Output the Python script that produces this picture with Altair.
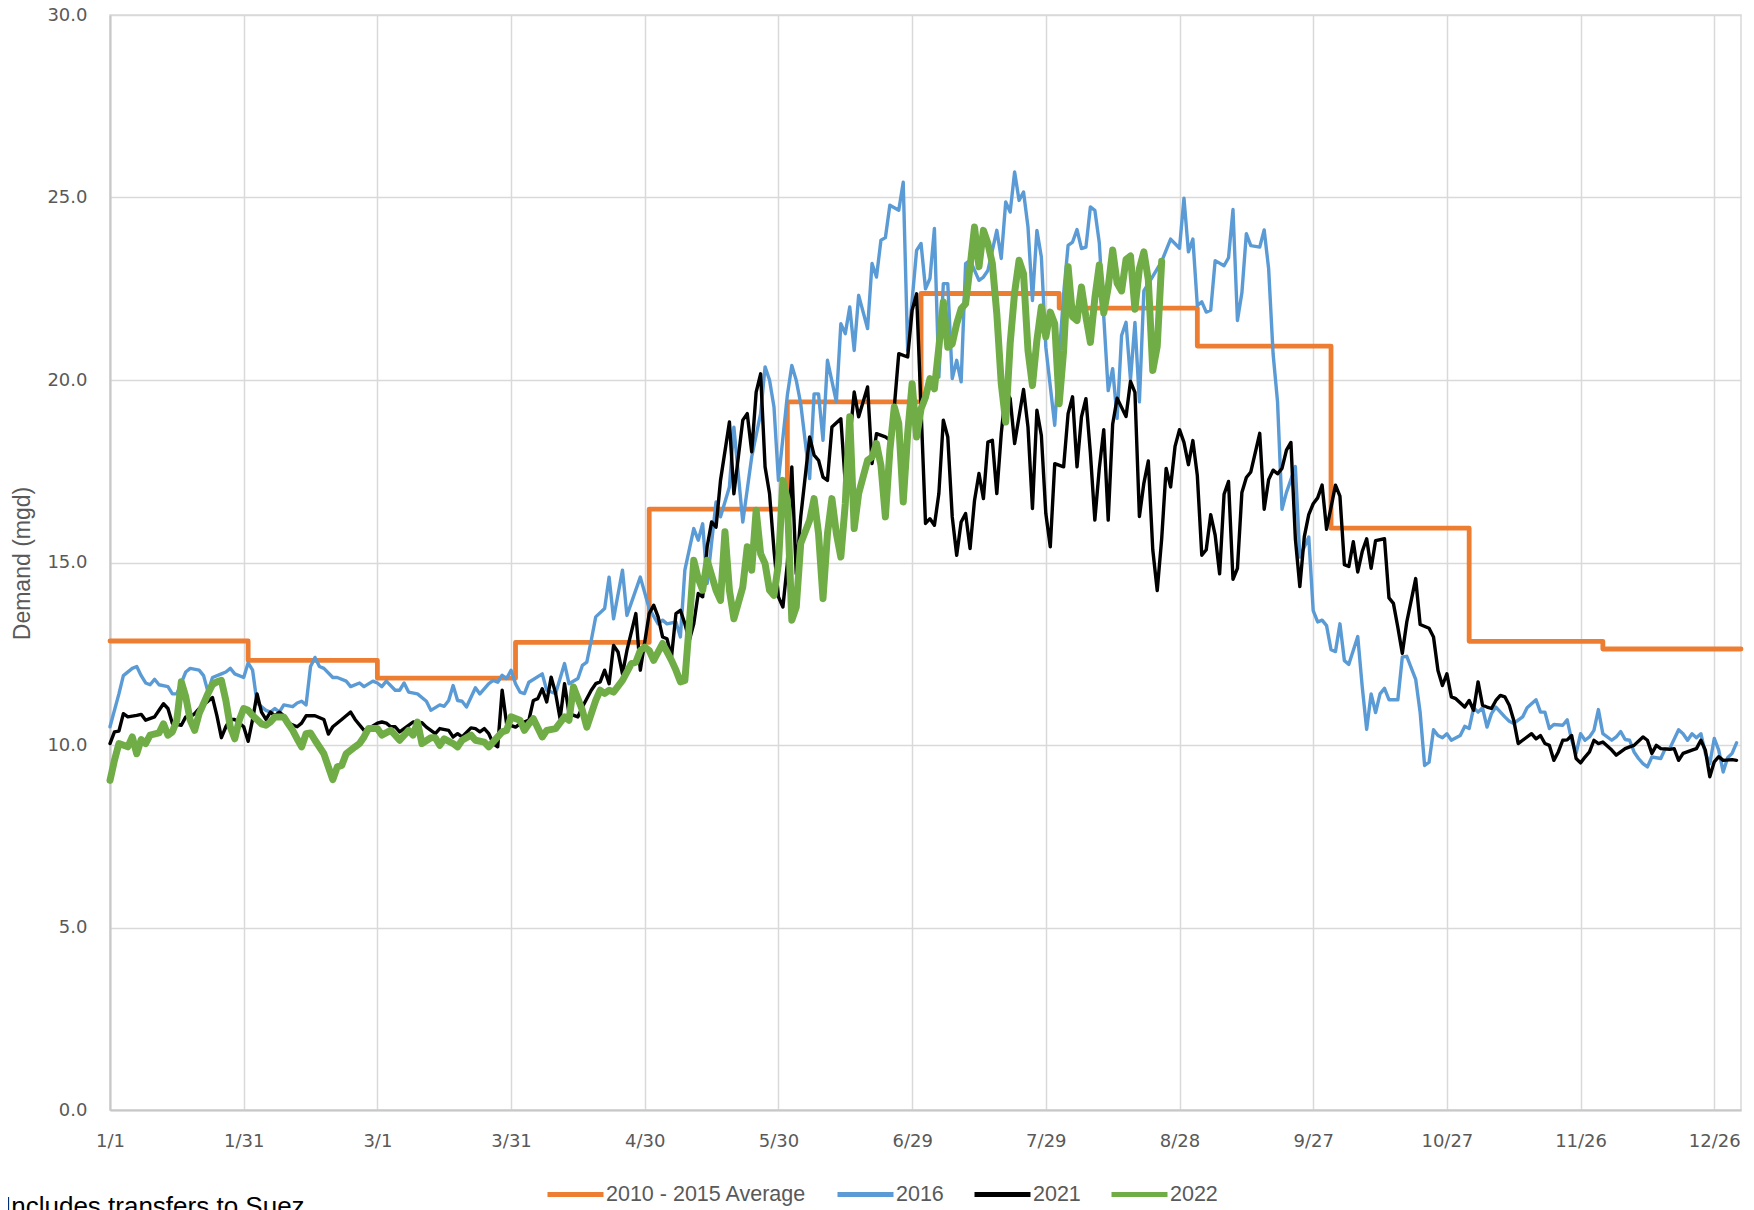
import json
import altair as alt
import pandas as pd

# ---------------- data ----------------
x_tick_days = [0, 30, 60, 90, 120, 150, 180, 210, 240, 270, 300, 330, 360]
x_tick_labels = ["1/1", "1/31", "3/1", "3/31", "4/30", "5/30", "6/29", "7/29",
                 "8/28", "9/27", "10/27", "11/26", "12/26"]
y_ticks = [0, 5, 10, 15, 20, 25, 30]

series_names = ["2010 - 2015 Average", "2016", "2021", "2022"]
series_colors = ["#ED7D31", "#5B9BD5", "#000000", "#70AD47"]
series_widths = [4.8, 3.4, 3.4, 7]

avg_days = [0, 31, 60, 91, 121, 152, 182, 213, 244, 274, 305, 335, 366]
avg_values = [12.85, 12.32, 11.83, 12.81, 16.46, 19.40, 22.37, 21.97, 20.93,
              15.94, 12.84, 12.63, 12.63]

d2016_days = [0, 2, 3, 5, 6, 7, 8, 9, 10, 11, 13, 14, 15, 17, 18, 20, 21, 22, 23, 25,
              26, 27, 28, 30, 31, 32, 33, 35, 36, 37, 38, 39, 41, 42, 43, 44, 45, 46, 47, 48,
              50, 51, 53, 54, 56, 57, 59, 60, 61, 62, 64, 65, 66, 67, 69, 71, 72, 74, 75, 76,
              77, 78, 79, 80, 82, 83, 85, 86, 87, 88, 89, 90, 91, 92, 93, 94, 97, 98, 100, 102,
              103, 105, 106, 107, 108, 109, 111, 112, 113, 115, 116, 119, 121, 123, 124, 125, 127, 128, 129, 131,
              132, 133, 134, 136, 137, 139, 140, 142, 144, 146, 147, 148, 149, 150, 152, 153, 154, 155, 157, 158,
              159, 160, 161, 163, 164, 165, 166, 167, 168, 170, 171, 172, 173, 174, 175, 177, 178, 179, 181, 182,
              183, 184, 185, 186, 187, 188, 189, 190, 191, 192, 193, 195, 196, 197, 199, 200, 201, 202, 203, 204,
              205, 206, 207, 208, 209, 210, 212, 213, 214, 215, 216, 217, 218, 219, 220, 221, 222, 224, 225, 226,
              227, 228, 229, 230, 231, 232, 234, 236, 238, 240, 241, 242, 243, 244, 245, 246, 247, 248, 250, 251,
              252, 253, 254, 255, 256, 258, 259, 260, 261, 262, 263, 264, 265, 266, 267, 269, 270, 271, 272, 273,
              274, 275, 276, 277, 278, 280, 281, 282, 283, 284, 285, 286, 287, 289, 290, 291, 293, 294, 295, 296,
              297, 298, 299, 300, 301, 303, 304, 305, 306, 307, 308, 309, 310, 311, 313, 314, 315, 317, 318, 320,
              321, 322, 323, 324, 326, 327, 328, 329, 330, 331, 332, 333, 334, 335, 337, 338, 339, 340, 341, 342,
              343, 344, 345, 346, 348, 349, 350, 352, 353, 354, 355, 356, 357, 358, 359, 360, 361, 362, 363, 364,
              365]
d2016_values = [10.5, 11.4, 11.9, 12.1, 12.15, 11.9, 11.7, 11.65, 11.8, 11.65, 11.6, 11.4, 11.4, 12.0, 12.1, 12.05, 11.9, 11.45, 11.85, 11.95,
                12.0, 12.1, 11.95, 11.85, 12.25, 12.05, 11.15, 10.95, 10.9, 11.0, 10.9, 11.1, 11.05, 11.15, 11.2, 11.1, 12.15, 12.4, 12.15, 12.1,
                11.85, 11.85, 11.75, 11.6, 11.7, 11.6, 11.75, 11.7, 11.6, 11.75, 11.5, 11.5, 11.7, 11.45, 11.4, 11.2, 10.95, 11.1, 11.06, 11.22,
                11.63, 11.22, 11.2, 11.04, 11.57, 11.4, 11.68, 11.77, 11.72, 11.91, 11.82, 12.05, 11.68, 11.45, 11.41, 11.72, 11.95, 11.5, 11.41, 12.23,
                11.68, 11.82, 12.18, 12.27, 12.87, 13.51, 13.74, 14.6, 13.46, 14.79, 13.55, 14.6, 13.74, 13.32, 13.42, 13.32, 13.37, 12.96, 14.79, 15.93,
                15.61, 16.06, 14.42, 16.66, 16.25, 17.07, 18.71, 16.11, 17.89, 19.08, 20.36, 20.0, 19.26, 17.25, 19.58, 20.4, 19.99, 19.35, 17.3, 19.62,
                19.62, 18.35, 20.54, 19.4, 21.54, 21.27, 22.0, 20.81, 22.32, 21.41, 23.19, 22.82, 23.83, 23.9, 24.79, 24.65, 25.42, 20.81, 23.55, 23.74,
                22.5, 22.78, 24.15, 20.08, 22.64, 22.64, 20.04, 20.54, 19.95, 23.19, 23.28, 22.73, 22.82, 23.0, 24.1, 23.33, 24.88, 24.6, 25.7, 24.92,
                25.15, 24.19, 22.18, 24.1, 23.37, 20.9, 18.76, 20.63, 22.36, 23.69, 23.78, 24.12, 23.6, 23.64, 24.74, 24.65, 23.76, 19.71, 20.31, 18.95,
                21.22, 21.58, 20.01, 21.58, 19.4, 22.44, 22.84, 23.25, 23.86, 23.61, 24.98, 23.51, 23.86, 22.04, 22.14, 21.86, 21.91, 23.27, 23.13, 23.35,
                24.67, 21.63, 22.39, 24.01, 23.68, 23.64, 24.11, 23.05, 20.72, 19.4, 16.46, 16.92, 17.27, 17.63, 15.15, 15.7, 13.68, 13.37, 13.42, 13.27,
                12.61, 12.56, 13.32, 12.31, 12.21, 12.97, 11.6, 10.43, 11.4, 10.89, 11.4, 11.55, 11.24, 11.24, 12.41, 12.43, 11.8, 10.89, 9.44, 9.53,
                10.42, 10.26, 10.2, 10.31, 10.13, 10.26, 10.51, 10.45, 11.02, 10.9, 11.02, 10.49, 10.86, 11.04, 10.77, 10.65, 10.59, 10.77, 11.02, 11.24,
                10.9, 10.9, 10.45, 10.56, 10.54, 10.69, 10.13, 9.77, 10.31, 10.13, 10.22, 10.4, 10.97, 10.31, 10.13, 10.22, 10.37, 10.15, 10.13, 9.81,
                9.63, 9.49, 9.4, 9.67, 9.63, 9.9, 9.9, 10.42, 10.31, 10.13, 10.31, 10.2, 10.31, 9.77, 9.49, 10.18, 9.86, 9.26, 9.65, 9.77,
                10.06]

d2021_days = [0, 1, 2, 3, 4, 6, 7, 8, 10, 11, 12, 13, 14, 16, 17, 18, 19, 20, 22, 23,
              24, 25, 26, 27, 28, 29, 30, 31, 32, 33, 34, 35, 36, 37, 38, 39, 40, 42, 43, 44,
              45, 46, 48, 49, 50, 52, 53, 54, 55, 57, 58, 60, 61, 62, 63, 64, 65, 67, 68, 70,
              71, 73, 74, 76, 77, 78, 79, 81, 82, 83, 84, 85, 86, 87, 88, 89, 91, 92, 94, 95,
              96, 97, 98, 99, 100, 101, 102, 103, 105, 106, 108, 109, 110, 111, 112, 113, 114, 115, 116, 118,
              119, 120, 121, 122, 123, 124, 125, 126, 127, 128, 129, 130, 131, 132, 133, 134, 135, 136, 137, 139,
              140, 142, 143, 144, 145, 146, 147, 148, 149, 150, 151, 152, 153, 154, 155, 157, 158, 159, 160, 161,
              162, 164, 165, 166, 167, 168, 170, 171, 172, 174, 175, 176, 177, 179, 180, 181, 183, 184, 185, 186,
              187, 188, 189, 190, 191, 192, 193, 194, 195, 196, 197, 198, 199, 200, 201, 202, 203, 205, 206, 207,
              208, 209, 210, 211, 212, 214, 215, 216, 217, 218, 219, 220, 221, 222, 223, 224, 225, 226, 227, 228,
              229, 230, 231, 232, 233, 234, 235, 236, 237, 238, 239, 240, 241, 242, 243, 244, 245, 246, 247, 248,
              249, 250, 251, 252, 253, 254, 255, 256, 258, 259, 260, 261, 262, 263, 264, 265, 266, 267, 268, 269,
              270, 271, 272, 273, 274, 275, 276, 277, 278, 279, 280, 281, 282, 283, 284, 286, 287, 288, 289, 290,
              291, 293, 294, 296, 297, 298, 299, 300, 301, 302, 304, 305, 306, 307, 308, 309, 310, 311, 312, 313,
              314, 315, 316, 317, 319, 320, 321, 322, 323, 324, 325, 326, 327, 328, 329, 330, 331, 332, 333, 334,
              335, 337, 338, 339, 340, 341, 342, 344, 345, 346, 347, 348, 350, 351, 352, 353, 355, 356, 357, 358,
              359, 360, 361, 362, 364, 365]
d2021_values = [10.04, 10.36, 10.38, 10.86, 10.77, 10.81, 10.84, 10.68, 10.77, 10.95, 11.13, 11.0, 10.59, 10.54, 10.77, 10.77, 10.86, 11.0, 11.2, 11.3,
                10.8, 10.2, 10.5, 10.7, 10.7, 10.6, 10.5, 10.1, 10.7, 11.4, 10.9, 10.7, 10.9, 10.8, 10.9, 10.8, 10.6, 10.5, 10.6, 10.8,
                10.8, 10.8, 10.7, 10.3, 10.5, 10.7, 10.8, 10.9, 10.7, 10.4, 10.45, 10.6, 10.63, 10.6, 10.5, 10.5, 10.36, 10.54, 10.63, 10.61,
                10.49, 10.31, 10.45, 10.4, 10.22, 10.31, 10.22, 10.47, 10.45, 10.36, 10.45, 10.31, 10.04, 9.95, 11.5, 10.58, 10.49, 10.58, 10.68, 11.22,
                11.27, 11.54, 11.18, 11.86, 11.41, 10.72, 11.68, 10.86, 10.77, 11.04, 11.5, 11.68, 11.73, 12.05, 11.68, 12.73, 12.55, 11.95, 12.59, 13.6,
                12.05, 12.82, 13.6, 13.83, 13.51, 12.96, 12.91, 12.41, 13.6, 13.69, 13.32, 12.87, 13.32, 14.15, 14.06, 15.43, 16.11, 15.97, 17.25, 18.85,
                16.88, 18.9, 19.08, 18.03, 19.67, 20.17, 17.62, 16.89, 15.34, 14.06, 13.78, 14.97, 17.62, 14.69, 16.25, 18.44, 17.94, 17.8, 17.34, 17.25,
                18.71, 18.94, 17.16, 18.35, 19.67, 18.99, 19.81, 17.71, 18.53, 18.44, 18.35, 19.26, 20.72, 20.63, 21.91, 22.36, 16.07, 16.2, 16.02, 16.89,
                18.9, 18.44, 16.25, 15.2, 16.11, 16.34, 15.38, 16.7, 17.44, 16.75, 18.3, 18.35, 16.89, 18.53, 19.72, 19.49, 18.26, 19.74, 18.71, 16.48,
                19.17, 18.48, 16.34, 15.43, 17.71, 17.62, 19.08, 19.54, 17.62, 18.99, 19.49, 18.0, 16.16, 17.58, 18.64, 16.16, 18.79, 19.5, 19.25, 19.0,
                19.96, 19.66, 16.26, 17.17, 17.78, 15.35, 14.23, 15.65, 17.58, 17.07, 18.18, 18.64, 18.29, 17.68, 18.34, 17.38, 15.2, 15.35, 16.31, 15.75,
                14.69, 16.87, 17.22, 14.54, 14.84, 16.92, 17.33, 17.48, 18.54, 16.46, 17.27, 17.53, 17.43, 17.58, 18.08, 18.29, 15.65, 14.34, 15.7, 16.31,
                16.61, 16.77, 17.12, 15.91, 16.51, 17.12, 16.82, 14.94, 14.89, 15.57, 14.74, 15.3, 15.65, 14.84, 15.6, 15.65, 14.03, 13.88, 13.22, 12.51,
                13.37, 14.56, 13.3, 13.2, 12.96, 12.04, 11.63, 11.95, 11.32, 11.27, 11.04, 11.22, 10.95, 11.73, 11.09, 11.04, 11.0, 11.22, 11.36, 11.32,
                11.09, 10.68, 10.04, 10.13, 10.31, 10.17, 10.26, 10.04, 9.99, 9.58, 9.81, 10.13, 10.14, 10.26, 9.63, 9.51, 9.67, 9.81, 10.13, 10.04,
                10.08, 9.86, 9.72, 9.81, 9.9, 9.95, 9.99, 10.22, 10.13, 9.77, 9.99, 9.9, 9.88, 9.9, 9.58, 9.77, 9.86, 9.9, 10.13, 9.86,
                9.13, 9.54, 9.68, 9.58, 9.6, 9.58]

d2022_days = [0, 1, 2, 4, 5, 6, 7, 8, 9, 11, 12, 13, 14, 15, 16, 17, 18, 19, 20, 22,
              23, 24, 25, 26, 27, 28, 29, 30, 31, 32, 34, 35, 36, 37, 39, 40, 41, 42, 43, 44,
              45, 46, 48, 49, 50, 51, 52, 53, 55, 56, 57, 58, 60, 61, 63, 64, 65, 67, 68, 69,
              70, 72, 73, 74, 75, 77, 78, 79, 81, 82, 84, 85, 87, 88, 89, 90, 92, 93, 94, 95,
              97, 98, 100, 102, 103, 104, 106, 107, 109, 110, 111, 112, 113, 115, 117, 118, 119, 120, 121, 122,
              124, 125, 126, 127, 128, 129, 130, 131, 132, 133, 134, 136, 137, 138, 139, 140, 142, 143, 144, 145,
              146, 147, 148, 149, 150, 151, 152, 153, 154, 155, 157, 158, 159, 160, 161, 162, 163, 164, 165, 166,
              167, 168, 170, 171, 172, 173, 174, 175, 176, 177, 178, 179, 180, 181, 182, 183, 184, 185, 186, 187,
              188, 189, 190, 191, 192, 193, 194, 195, 196, 197, 198, 199, 200, 201, 202, 203, 204, 205, 206, 207,
              208, 209, 210, 211, 212, 213, 214, 215, 216, 217, 218, 219, 220, 221, 222, 223, 224, 225, 226, 227,
              228, 229, 230, 231, 232, 233, 234, 235, 236]
d2022_values = [9.03, 9.58, 10.04, 9.95, 10.22, 9.76, 10.15, 10.04, 10.27, 10.33, 10.58, 10.27, 10.36, 10.68, 11.73, 11.32, 10.68, 10.4, 10.86, 11.41,
                11.66, 11.73, 11.77, 11.22, 10.49, 10.17, 10.68, 11.0, 10.95, 10.81, 10.58, 10.54, 10.63, 10.77, 10.77, 10.58, 10.4, 10.17, 9.95, 10.31,
                10.33, 10.13, 9.76, 9.4, 9.05, 9.4, 9.44, 9.76, 9.95, 10.04, 10.22, 10.45, 10.45, 10.27, 10.4, 10.27, 10.13, 10.4, 10.27, 10.63,
                10.04, 10.2, 10.2, 9.99, 10.17, 10.04, 9.95, 10.13, 10.27, 10.13, 10.08, 9.95, 10.22, 10.36, 10.4, 10.77, 10.68, 10.4, 10.58, 10.72,
                10.22, 10.4, 10.45, 10.77, 10.68, 11.59, 10.95, 10.49, 11.22, 11.5, 11.41, 11.5, 11.45, 11.77, 12.23, 12.27, 12.59, 12.68, 12.59, 12.32,
                12.78, 12.55, 12.32, 12.05, 11.73, 11.77, 13.32, 15.06, 14.56, 14.24, 15.06, 14.24, 13.96, 15.84, 14.24, 13.46, 14.33, 15.43, 14.79, 16.43,
                15.24, 14.97, 14.24, 14.1, 14.97, 17.25, 16.71, 13.42, 13.78, 15.52, 16.16, 16.75, 15.79, 14.01, 15.79, 16.75, 15.79, 15.15, 16.61, 18.99,
                15.93, 16.89, 17.8, 17.89, 18.26, 17.66, 16.25, 18.07, 19.26, 18.81, 16.66, 18.53, 19.9, 18.44, 19.21, 19.53, 20.04, 19.76, 20.9, 22.14,
                20.9, 20.99, 21.54, 21.95, 22.09, 23.1, 24.19, 23.1, 24.1, 23.74, 23.19, 21.82, 19.9, 18.85, 21.0, 22.4, 23.28, 22.91, 20.81, 19.85,
                21.09, 22.0, 21.18, 21.86, 21.54, 19.35, 20.81, 23.1, 21.73, 21.63, 22.55, 21.73, 21.03, 22.24, 23.15, 21.84, 22.54, 23.56, 22.65, 22.44,
                23.3, 23.4, 21.94, 23.05, 23.51, 22.75, 20.26, 20.92, 23.25]

footnote = "Includes transfers to Suez"
y_title = "Demand (mgd)"

# ---------------- table ----------------
frames = []
for name, days, vals in [(series_names[0], avg_days, avg_values),
                         (series_names[1], d2016_days, d2016_values),
                         (series_names[2], d2021_days, d2021_values),
                         (series_names[3], d2022_days, d2022_values)]:
    frames.append(pd.DataFrame({"series": name, "day": days, "value": vals}))
df = pd.concat(frames, ignore_index=True)

GRID = "#D9D9D9"
TXT = "#595959"

label_expr = json.dumps(x_tick_labels) + "[round(datum.value / 30)]"

x_enc = alt.X("day:Q",
              scale=alt.Scale(domain=[0, 366], nice=False, zero=False),
              axis=alt.Axis(values=x_tick_days, labelExpr=label_expr, title=None,
                            grid=True, gridColor=GRID, gridWidth=1.5,
                            domainColor="#C8C8C8", domainWidth=2,
                            ticks=False, tickSize=0, labelPadding=22,
                            labelFont="DejaVu Sans", labelFontSize=18, labelColor=TXT,
                            labelOverlap=False, labelFlush=False))
y_enc = alt.Y("value:Q",
              scale=alt.Scale(domain=[0, 30], nice=False, zero=True),
              axis=alt.Axis(values=y_ticks, format=".1f", title=y_title,
                            grid=True, gridColor=GRID, gridWidth=1.5,
                            domainColor="#C8C8C8", domainWidth=2,
                            ticks=False, tickSize=0, labelPadding=23,
                            labelFont="DejaVu Sans", labelFontSize=18, labelColor=TXT,
                            titleFont="Liberation Sans", titleFontSize=23, titleFontWeight="normal",
                            titleColor=TXT, titleX=-88, titleY=548, titleAngle=270,
                            titleAlign="center", titleBaseline="middle"))
color_enc = alt.Color("series:N",
                      scale=alt.Scale(domain=series_names, range=series_colors),
                      sort=series_names,
                      legend=alt.Legend(orient="none", legendX=435, legendY=1149,
                                        direction="horizontal", title=None,
                                        symbolType="stroke", symbolSize=3136,
                                        symbolStrokeWidth=5, labelFont="Liberation Sans",
                                        labelFontSize=21.5, labelColor=TXT, labelOffset=0,
                                        columnPadding=20, padding=0, labelLimit=400))

base = alt.Chart(df)
layers = []
for name, w in zip(series_names, series_widths):
    interp = "step-after" if name == series_names[0] else "linear"
    layers.append(
        base.transform_filter(alt.datum.series == name)
        .mark_line(strokeWidth=w, interpolate=interp, strokeJoin="round", strokeCap="round")
        .encode(x=x_enc, y=y_enc, color=color_enc, order="day:Q")
    )

note = alt.Chart(pd.DataFrame({"t": [footnote]})).mark_text(
    align="left", baseline="alphabetic", font="Liberation Sans", fontSize=26, color="#000000"
).encode(text="t:N", x=alt.value(-106), y=alt.value(1200))

chart = alt.layer(*layers, note).properties(
    width=1631, height=1095,
    autosize=alt.AutoSizeParams(type="none"),
    padding={"left": 102, "top": 7, "right": 4, "bottom": 100},
).configure_view(stroke=GRID, strokeWidth=1.5)

chart.save("out.html", embed_options={"renderer": "svg", "actions": False})
